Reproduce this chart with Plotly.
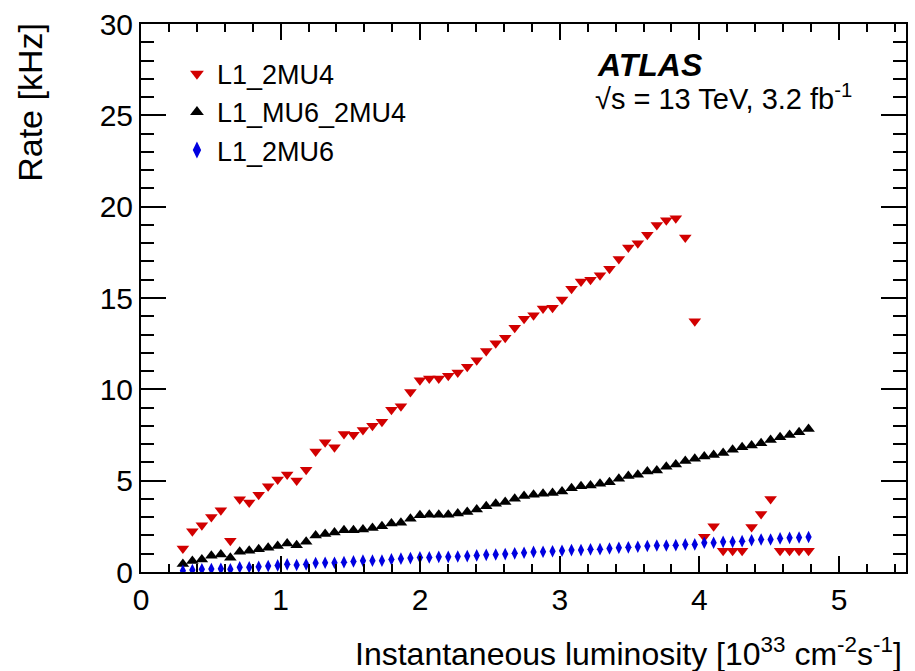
import plotly.graph_objects as go

# Instantaneous luminosity bin centres [1e33 cm^-2 s^-1]
lumi = [0.300, 0.368, 0.436, 0.504, 0.572, 0.640, 0.707, 0.775, 0.843, 0.911,
        0.979, 1.047, 1.115, 1.183, 1.251, 1.319, 1.386, 1.454, 1.522, 1.590,
        1.658, 1.726, 1.794, 1.862, 1.930, 1.998, 2.065, 2.133, 2.201, 2.269,
        2.337, 2.405, 2.473, 2.541, 2.609, 2.677, 2.744, 2.812, 2.880, 2.948,
        3.016, 3.084, 3.152, 3.220, 3.288, 3.356, 3.423, 3.491, 3.559, 3.627,
        3.695, 3.763, 3.831, 3.899, 3.967, 4.035, 4.102, 4.170, 4.238, 4.306,
        4.374, 4.442, 4.510, 4.578, 4.646, 4.714, 4.782]

rate_2mu4 = [1.29, 2.23, 2.56, 3.01, 3.38, 1.71, 3.98, 3.80, 4.23, 4.69,
             5.07, 5.34, 5.01, 5.60, 6.59, 7.10, 6.83, 7.56, 7.52, 7.78,
             8.01, 8.23, 8.88, 9.08, 9.86, 10.50, 10.59, 10.59, 10.74, 10.92,
             11.23, 11.59, 12.10, 12.52, 12.82, 13.37, 13.86, 14.06, 14.42, 14.46,
             14.92, 15.51, 15.91, 16.00, 16.24, 16.60, 17.13, 17.77, 18.00, 18.46,
             19.00, 19.25, 19.36, 18.31, 13.73, 1.93, 2.51, 1.16, 1.16, 1.16,
             2.47, 3.18, 3.99, 1.16, 1.16, 1.16, 1.16]

rate_mu6_2mu4 = [0.44, 0.60, 0.69, 0.89, 0.96, 0.78, 1.11, 1.16, 1.24, 1.33,
                 1.43, 1.56, 1.47, 1.65, 2.00, 2.08, 2.16, 2.29, 2.29, 2.33,
                 2.41, 2.51, 2.65, 2.70, 2.92, 3.11, 3.14, 3.14, 3.14, 3.20,
                 3.29, 3.42, 3.60, 3.74, 3.83, 4.01, 4.16, 4.23, 4.29, 4.32,
                 4.41, 4.59, 4.69, 4.74, 4.83, 4.92, 5.11, 5.25, 5.32, 5.50,
                 5.55, 5.76, 5.89, 6.07, 6.20, 6.32, 6.41, 6.52, 6.69, 6.83,
                 6.92, 7.05, 7.23, 7.38, 7.50, 7.65, 7.83]

rate_2mu6 = [0.07, 0.11, 0.15, 0.16, 0.18, 0.15, 0.26, 0.26, 0.29, 0.33,
             0.36, 0.42, 0.38, 0.42, 0.49, 0.51, 0.51, 0.54, 0.58, 0.62,
             0.62, 0.62, 0.69, 0.73, 0.76, 0.80, 0.80, 0.83, 0.83, 0.85,
             0.87, 0.91, 0.94, 0.96, 0.98, 1.02, 1.05, 1.10, 1.11, 1.14,
             1.16, 1.20, 1.20, 1.24, 1.25, 1.29, 1.33, 1.35, 1.38, 1.42,
             1.45, 1.45, 1.47, 1.51, 1.51, 1.60, 1.60, 1.65, 1.65, 1.69,
             1.74, 1.78, 1.78, 1.84, 1.87, 1.89, 1.92]

series_names = ["L1_2MU4", "L1_MU6_2MU4", "L1_2MU6"]
x_ticks = [0, 1, 2, 3, 4, 5]
y_ticks = [0, 5, 10, 15, 20, 25, 30]

FONT = "Liberation Sans, Arial, Helvetica, sans-serif"

fig = go.Figure()
fig.add_trace(go.Scatter(x=lumi, y=rate_2mu4, mode="markers", name=series_names[0],
                         legendgroup="a",
                         marker=dict(symbol="triangle-down", size=11, color="#d20000")))
fig.add_trace(go.Scatter(x=lumi, y=rate_mu6_2mu4, mode="markers", name=series_names[1],
                         legendgroup="b",
                         marker=dict(symbol="triangle-up", size=11, color="#000000")))
fig.add_trace(go.Scatter(x=lumi, y=rate_2mu6, mode="markers", name=series_names[2],
                         legendgroup="c",
                         marker=dict(symbol="diamond-tall", size=9, color="#0000e0")))

axis_common = dict(
    showline=True, linecolor="black", linewidth=2, mirror="allticks",
    ticks="inside", tickcolor="black", tickwidth=1.5,
    showgrid=False, zeroline=False,
    tickfont=dict(family=FONT, size=30, color="black"),
)

fig.update_xaxes(range=[0, 5.48], tickvals=x_ticks, ticklen=16,
                 minor=dict(dtick=0.2, ticks="inside", ticklen=8, tickcolor="black", tickwidth=1.5),
                 **axis_common)
fig.update_yaxes(range=[0, 30], tickvals=y_ticks, ticklen=25,
                 minor=dict(dtick=1, ticks="inside", ticklen=13, tickcolor="black", tickwidth=1.5),
                 **axis_common)

fig.update_layout(
    width=915, height=671,
    margin=dict(l=141, r=7, t=21, b=99),
    paper_bgcolor="white", plot_bgcolor="white",
    font=dict(family=FONT, color="black"),
    showlegend=True,
    legend=dict(x=0.047, y=0.953, xanchor="left", yanchor="top",
                font=dict(family=FONT, size=27, color="black"),
                bgcolor="rgba(0,0,0,0)", tracegroupgap=0, itemsizing="constant"),
    annotations=[
        dict(text="<b><i>ATLAS</i></b>", xref="paper", yref="paper", x=0.593, y=0.925,
             xanchor="left", yanchor="middle", showarrow=False,
             font=dict(family=FONT, size=32, color="black")),
        dict(text="√s = 13 TeV, 3.2 fb<sup>-1</sup>", xref="paper", yref="paper", x=0.591, y=0.866,
             xanchor="left", yanchor="middle", showarrow=False,
             font=dict(family=FONT, size=29, color="black")),
        dict(text="Instantaneous luminosity [10<sup>33</sup> cm<sup>-2</sup>s<sup>-1</sup>]",
             xref="paper", yref="paper", x=0.997, y=-0.105, xanchor="right", yanchor="top",
             showarrow=False, font=dict(family=FONT, size=32, color="black")),
        dict(text="Rate [kHz]", xref="paper", yref="paper", x=-0.145, y=1.005,
             xanchor="center", yanchor="top", textangle=-90,
             showarrow=False, font=dict(family=FONT, size=34, color="black")),
    ],
)

fig.write_html("out.html")
